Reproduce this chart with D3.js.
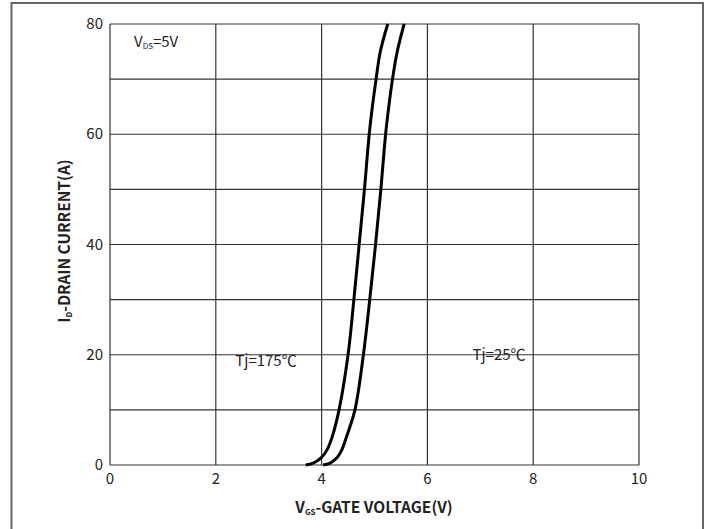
<!DOCTYPE html>
<html>
<head>
<meta charset="utf-8">
<script src="https://cdn.jsdelivr.net/npm/d3@7"></script>
<style>
  body { margin: 0; background: #fff; }
  text { font-family: "Noto Sans CJK SC", "Noto Sans", sans-serif; fill: #222; }
</style>
</head>
<body>
<svg id="chart" width="711" height="529"></svg>
<script>
// tick values
const xTicks = [0, 2, 4, 6, 8, 10];
const yTicks = [0, 20, 40, 60, 80];
const yGrid = [0, 10, 20, 30, 40, 50, 60, 70, 80];

// transfer curves (VGS volts, ID amps)
const vgs175 = [3.70, 3.84, 3.99, 4.10, 4.20, 4.33, 4.50, 4.61, 4.71, 4.81, 4.90, 4.96, 5.03, 5.11, 5.25];
const id175  = [0,    0.35, 1.3,  2.7,  5.1,  10,   20,   30,   40,   50,   60,   65,   70,   75,   80];
const vgs25  = [4.03, 4.16, 4.29, 4.38, 4.47, 4.63, 4.79, 4.91, 5.02, 5.12, 5.21, 5.27, 5.34, 5.43, 5.56];
const id25   = [0,    0.35, 1.3,  2.7,  5.1,  10,   20,   30,   40,   50,   60,   65,   70,   75,   80];

const svg = d3.select("#chart");

// outer frame
svg.append("path")
    .attr("d", "M11.5,535V3H703V535")
    .attr("fill", "none")
    .attr("stroke", "#666")
    .attr("stroke-width", 2);

const pLeft = 110, pRight = 639, pTop = 24, pBottom = 465;
const x = d3.scaleLinear().domain([0, 10]).range([pLeft, pRight]);
const y = d3.scaleLinear().domain([0, 80]).range([pBottom, pTop]);

const grid = svg.append("g").attr("stroke", "#333").attr("stroke-width", 1.2);
grid.selectAll("line.v").data(xTicks).enter().append("line")
    .attr("class", "v")
    .attr("x1", d => x(d)).attr("x2", d => x(d))
    .attr("y1", pTop).attr("y2", pBottom);
grid.selectAll("line.h").data(yGrid).enter().append("line")
    .attr("class", "h")
    .attr("x1", pLeft).attr("x2", pRight)
    .attr("y1", d => y(d)).attr("y2", d => y(d));

// tick labels
svg.append("g").selectAll("text").data(xTicks).enter().append("text")
    .attr("x", d => x(d)).attr("y", pBottom + 19)
    .attr("text-anchor", "middle")
    .attr("font-size", 15)
    .text(d => d);
svg.append("g").selectAll("text").data(yTicks).enter().append("text")
    .attr("x", pLeft - 7).attr("y", d => y(d) + 5)
    .attr("text-anchor", "end")
    .attr("font-size", 15)
    .text(d => d);

// curves
const line = d3.line()
    .x(d => x(d[0])).y(d => y(d[1]))
    .curve(d3.curveCatmullRom.alpha(0.5));
[[vgs175, id175], [vgs25, id25]].forEach(function(s) {
    svg.append("path")
        .datum(s[0].map((v, i) => [v, s[1][i]]))
        .attr("d", line)
        .attr("fill", "none")
        .attr("stroke", "#000")
        .attr("stroke-width", 3);
});

// annotations
const vds = svg.append("text").attr("x", 134).attr("y", 47).attr("font-size", 15);
vds.append("tspan").text("V");
vds.append("tspan").attr("font-size", 8).attr("dy", 2).text("DS");
vds.append("tspan").attr("dy", -2).text("=5V");

svg.append("text").attr("x", 266).attr("y", 366).attr("text-anchor", "middle")
    .attr("font-size", 15).text("Tj=175℃");
svg.append("text").attr("x", 499).attr("y", 360).attr("text-anchor", "middle")
    .attr("font-size", 15).text("Tj=25℃");

// axis titles
const xt = svg.append("text").attr("x", 374).attr("y", 513).attr("text-anchor", "middle")
    .attr("font-size", 15.5).attr("font-weight", "bold");
xt.append("tspan").text("V");
xt.append("tspan").attr("font-size", 8).attr("dy", 2).text("GS");
xt.append("tspan").attr("dy", -2).text("-GATE VOLTAGE(V)");

const yt = svg.append("text")
    .attr("transform", "translate(70,241) rotate(-90)")
    .attr("text-anchor", "middle")
    .attr("font-size", 15.5).attr("font-weight", "bold");
yt.append("tspan").text("I");
yt.append("tspan").attr("font-size", 8).attr("dy", 2).text("D");
yt.append("tspan").attr("dy", -2).text("-DRAIN CURRENT(A)");
</script>
</body>
</html>
